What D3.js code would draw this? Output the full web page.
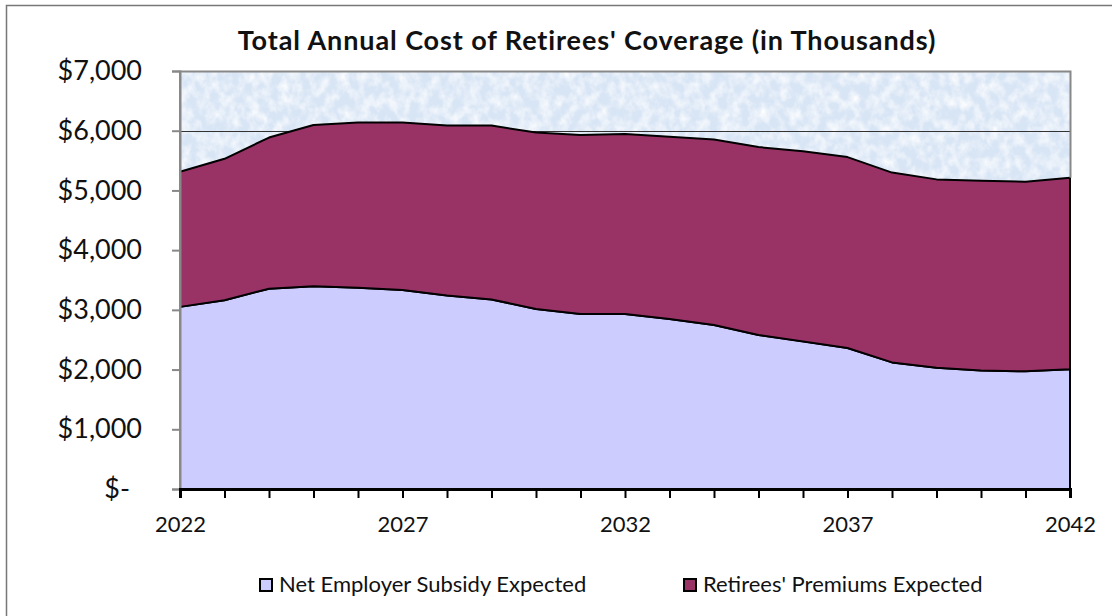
<!DOCTYPE html>
<html>
<head>
<meta charset="utf-8">
<script src="https://cdn.jsdelivr.net/npm/d3@7"></script>
<style>
  body { margin: 0; background: #fff; }
  text { font-family: Lato, "Open Sans", sans-serif; fill: #111; }
</style>
</head>
<body>
<script>
// values (in thousands)
var years = d3.range(2022, 2043);
var employerSubsidy = [3050, 3160, 3355, 3395, 3372, 3333, 3240, 3175, 3015, 2931, 2931,
                       2845, 2747, 2580, 2472, 2360, 2120, 2030, 1985, 1970, 2007];
var retireePremiums = [2262, 2370, 2530, 2702, 2764, 2803, 2846, 2911, 2955, 2999, 3015,
                       3055, 3105, 3146, 3184, 3198, 3179, 3155, 3177, 3175, 3205];
var seriesNames = ["Net Employer Subsidy Expected", "Retirees' Premiums Expected"];
var seriesColors = ["#ccccff", "#993366"];
var yTicks = [0, 1000, 2000, 3000, 4000, 5000, 6000, 7000];
var xLabelYears = [2022, 2027, 2032, 2037, 2042];

var W = 1112, H = 616;
var margin = {top: 71, left: 180, bottom: 127, right: 42};
var width = W - margin.left - margin.right;
var height = H - margin.top - margin.bottom;

var svg = d3.select("body").append("svg")
    .attr("width", W)
    .attr("height", H);

// outer frame (only left and top show)
svg.append("path")
    .attr("d", "M6.5," + H + "V5.5H" + W)
    .attr("fill", "none")
    .attr("stroke", "#777")
    .attr("stroke-width", 1.5);

// tissue-paper style texture for the plot area
var defs = svg.append("defs");
var filt = defs.append("filter").attr("id", "tissue")
    .attr("x", 0).attr("y", 0).attr("width", 1).attr("height", 1);
filt.append("feTurbulence")
    .attr("type", "fractalNoise")
    .attr("baseFrequency", "0.1 0.08")
    .attr("numOctaves", 3)
    .attr("seed", 7)
    .attr("result", "noise");
filt.append("feColorMatrix")
    .attr("in", "noise")
    .attr("type", "matrix")
    .attr("values", "0 0 0 0 1  0 0 0 0 1  0 0 0 0 1  1.7 0 0 0 -0.6");

var g = svg.append("g")
    .attr("transform", "translate(" + margin.left + "," + margin.top + ")");

g.append("rect")
    .attr("width", width).attr("height", height)
    .attr("fill", "#d8e5f5");
g.append("rect")
    .attr("width", width).attr("height", height)
    .attr("fill", "#fff")
    .attr("filter", "url(#tissue)");

var x = d3.scaleLinear().domain([2022, 2042]).range([0, width]);
var y = d3.scaleLinear().domain([0, 7000]).range([height, 0]);

// gridlines
g.append("g").selectAll("line")
  .data(yTicks.slice(1, -1))
  .enter().append("line")
    .attr("x1", 0).attr("x2", width)
    .attr("y1", function(d) { return Math.round(y(d)) + 0.5; })
    .attr("y2", function(d) { return Math.round(y(d)) + 0.5; })
    .attr("stroke", "#333")
    .attr("stroke-width", 1.2);

// stack the two series
var rows = years.map(function(yr, i) {
  return { year: yr, emp: employerSubsidy[i], prem: retireePremiums[i] };
});
var stack = d3.stack().keys(["emp", "prem"]);
var layers = stack(rows);

var area = d3.area()
    .x(function(d) { return x(d.data.year); })
    .y0(function(d) { return y(d[0]); })
    .y1(function(d) { return y(d[1]); });

g.selectAll(".layer")
  .data(layers)
  .enter().append("path")
    .attr("class", "layer")
    .attr("d", area)
    .attr("fill", function(d, i) { return seriesColors[i]; })
    .attr("stroke", "#000")
    .attr("stroke-width", 2)
    .attr("stroke-linejoin", "round");

// plot area border (gray)
var lastTotal = employerSubsidy[employerSubsidy.length - 1] + retireePremiums[retireePremiums.length - 1];
g.append("path")
    .attr("d", "M0," + height + "V0.5H" + (width + 0.5) + "V" + y(lastTotal))
    .attr("fill", "none")
    .attr("stroke", "#888")
    .attr("stroke-width", 2);

// y axis
var yAxis = g.append("g")
    .call(d3.axisLeft(y)
      .tickValues(yTicks)
      .tickSize(8)
      .tickPadding(30)
      .tickFormat(function(d) { return d === 0 ? "$-" : "$" + d3.format(",")(d); }));
yAxis.select(".domain").attr("stroke", "#888").attr("stroke-width", 2);
yAxis.selectAll(".tick line").attr("stroke", "#888").attr("stroke-width", 2);
yAxis.selectAll(".tick text")
    .attr("font-size", 27)
    .attr("font-family", "Lato, sans-serif")
    .attr("fill", "#111")
    .attr("dx", function(d) { return d === 0 ? -12 : 0; });

// x axis
var xAxis = g.append("g")
    .attr("transform", "translate(0," + height + ")")
    .call(d3.axisBottom(x)
      .tickValues(years)
      .tickSize(9)
      .tickPadding(18)
      .tickFormat(function(d) { return xLabelYears.indexOf(d) >= 0 ? d : ""; }));
xAxis.select(".domain").attr("stroke", "#000").attr("stroke-width", 3);
xAxis.selectAll(".tick line").attr("stroke", "#000").attr("stroke-width", 2);
xAxis.selectAll(".tick text")
    .attr("font-size", 22)
    .attr("font-family", "Lato, sans-serif")
    .attr("fill", "#111");

// title
svg.append("text")
    .attr("x", 587).attr("y", 50)
    .attr("text-anchor", "middle")
    .attr("font-size", 27)
    .attr("font-weight", "bold")
    .attr("letter-spacing", 0.9)
    .text("Total Annual Cost of Retirees' Coverage (in Thousands)");

// legend
var legendX = [259, 683];
var legend = svg.selectAll(".legend")
  .data(seriesNames)
  .enter().append("g")
    .attr("class", "legend")
    .attr("transform", function(d, i) { return "translate(" + legendX[i] + ",578)"; });
legend.append("rect")
    .attr("x", 1).attr("y", 1)
    .attr("width", 12).attr("height", 12)
    .attr("fill", function(d, i) { return seriesColors[i]; })
    .attr("stroke", "#000")
    .attr("stroke-width", 2);
legend.append("text")
    .attr("x", 20).attr("y", 14)
    .attr("font-size", 22)
    .text(function(d) { return d; });
</script>
</body>
</html>
